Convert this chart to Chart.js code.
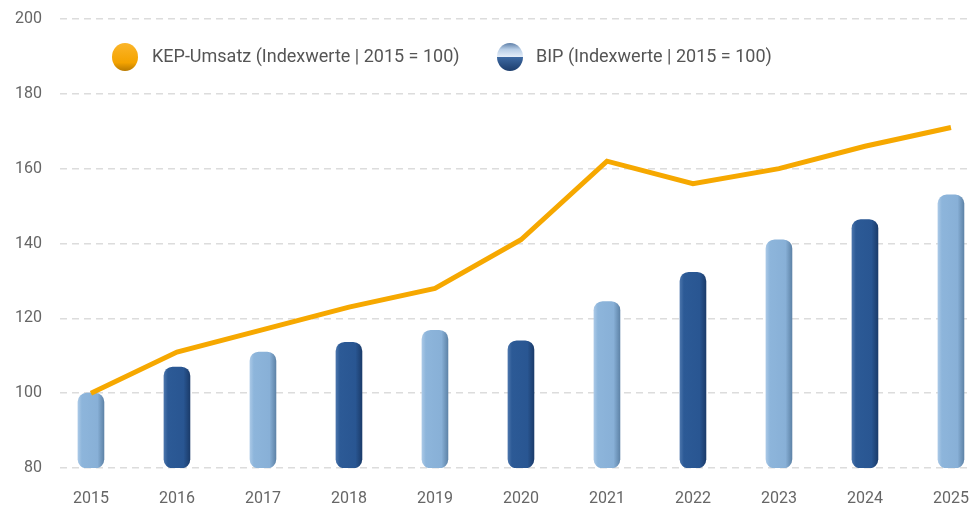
<!DOCTYPE html>
<html lang="de">
<head>
<meta charset="utf-8">
<title>KEP-Umsatz und BIP</title>
<script src="https://cdn.jsdelivr.net/npm/chart.js@4/dist/chart.umd.min.js"></script>
<style>
    html, body { margin: 0; padding: 0; background: #fff; }
    #wrap { width: 971px; height: 505px; position: relative; }
</style>
</head>
<body>
<div id="wrap"><canvas id="myChart" width="971" height="505"></canvas></div>
<script>
// Years shown on the x axis
const years = ['2015', '2016', '2017', '2018', '2019', '2020', '2021', '2022', '2023', '2024', '2025'];

// KEP revenue, index 2015 = 100
const kepValues = [100, 111, 117, 123, 128, 141, 162, 156, 160, 166, 171];

// GDP, index 2015 = 100
const bipValues = [100, 107, 111, 113.6, 116.8, 114, 124.5, 132.3, 141, 146.4, 153];

// Bars start at the bottom of the value axis
const barBase = 80;

// Value axis ticks
const yTicks = [80, 100, 120, 140, 160, 180, 200];

const kepLabel = 'KEP-Umsatz (Indexwerte | 2015 = 100)';
const bipLabel = 'BIP (Indexwerte | 2015 = 100)';

document.addEventListener('DOMContentLoaded', () => {
    const FONT = 'Roboto, "Noto Sans", sans-serif';
    const orange = '#f6a800';
    const lightBlue = '#8cb4da';
    const darkBlue = '#2b5994';

    // Shaded fill for each bar: lighter left edge, darker right edge
    function barFill(context) {
        const chart = context.chart;
        const i = context.dataIndex;
        const base = i % 2 === 0 ? lightBlue : darkBlue;
        if (!chart.chartArea || !chart.scales.x) return base;
        const x = chart.scales.x.getPixelForValue(i);
        const g = chart.ctx.createLinearGradient(x - 13, 0, x + 13, 0);
        if (i % 2 === 0) {
            g.addColorStop(0, '#a9c8e6');
            g.addColorStop(0.15, '#8db5db');
            g.addColorStop(0.75, '#88b0d7');
            g.addColorStop(1, '#5f84a8');
        } else {
            g.addColorStop(0, '#4a74ab');
            g.addColorStop(0.15, '#2c5a96');
            g.addColorStop(0.75, '#295692');
            g.addColorStop(1, '#1b3c6b');
        }
        return g;
    }

    // Legend drawn inside the plot area
    const legendPlugin = {
        id: 'innerLegend',
        afterDraw(chart) {
            const ctx = chart.ctx;
            ctx.save();

            // orange marker
            let cx = 125, cy = 57;
            let g = ctx.createLinearGradient(0, cy - 14, 0, cy + 14);
            g.addColorStop(0, '#fbb52a');
            g.addColorStop(0.7, '#f4a300');
            g.addColorStop(1, '#b97a00');
            ctx.fillStyle = g;
            ctx.beginPath();
            ctx.ellipse(cx, cy, 13, 14, 0, 0, Math.PI * 2);
            ctx.fill();

            // blue marker, light top half and dark bottom half
            cx = 510;
            ctx.beginPath();
            ctx.ellipse(cx, cy, 13, 14, 0, Math.PI, Math.PI * 2);
            g = ctx.createLinearGradient(0, cy - 14, 0, cy);
            g.addColorStop(0, '#5e7fa8');
            g.addColorStop(0.45, '#b7cde6');
            g.addColorStop(1, '#e6eef8');
            ctx.fillStyle = g;
            ctx.fill();
            ctx.beginPath();
            ctx.ellipse(cx, cy, 13, 14, 0, 0, Math.PI);
            g = ctx.createLinearGradient(0, cy, 0, cy + 14);
            g.addColorStop(0, '#3e6aa3');
            g.addColorStop(1, '#1c3d6c');
            ctx.fillStyle = g;
            ctx.fill();

            ctx.fillStyle = '#555';
            ctx.font = '18px ' + FONT;
            ctx.textBaseline = 'middle';
            ctx.fillText(kepLabel, 152, cy);
            ctx.fillText(bipLabel, 536, cy);
            ctx.restore();
        }
    };

    const ctx = document.getElementById('myChart').getContext('2d');

    const chartData = {
        datasets: [
            {
                type: 'line',
                label: kepLabel,
                data: kepValues.map((v, i) => ({ x: i, y: v })),
                borderColor: orange,
                borderWidth: 5,
                pointRadius: 0,
                tension: 0,
                order: 0
            },
            {
                type: 'bar',
                label: bipLabel,
                data: bipValues.map((v, i) => ({ x: i, y: [barBase, v] })),
                backgroundColor: barFill,
                borderRadius: 9,
                borderSkipped: false,
                barThickness: 26,
                order: 1
            }
        ]
    };

    const config = {
        data: chartData,
        plugins: [legendPlugin],
        options: {
            responsive: false,
            animation: false,
            layout: { padding: { top: 19, right: 0, left: 0, bottom: 0 } },
            plugins: {
                legend: { display: false },
                tooltip: { enabled: false }
            },
            scales: {
                x: {
                    type: 'linear',
                    offset: false,
                    min: -0.36,
                    max: 10.233,
                    afterBuildTicks: scale => {
                        scale.ticks = years.map((y, i) => ({ value: i }));
                    },
                    afterFit: scale => {
                        scale.height = 37;
                        scale.paddingLeft = 0;
                        scale.paddingRight = 0;
                    },
                    ticks: {
                        callback: (value) => years[value],
                        color: '#666',
                        font: { family: FONT, size: 16 },
                        padding: 21,
                        maxRotation: 0,
                        autoSkip: false
                    },
                    grid: { display: false, drawTicks: false, offset: false },
                    border: { display: false }
                },
                y: {
                    min: yTicks[0],
                    max: yTicks[yTicks.length - 1],
                    afterBuildTicks: scale => {
                        scale.ticks = yTicks.map(v => ({ value: v }));
                    },
                    afterFit: scale => {
                        scale.width = 60;
                        scale.paddingTop = 0;
                        scale.paddingBottom = 0;
                    },
                    ticks: {
                        color: '#666',
                        font: { family: FONT, size: 16 },
                        padding: 18
                    },
                    grid: {
                        color: '#dcdcdc',
                        lineWidth: 1.5,
                        drawTicks: false
                    },
                    border: { display: false, dash: [7, 5] }
                }
            }
        }
    };

    new Chart(ctx, config);
});
</script>
</body>
</html>
